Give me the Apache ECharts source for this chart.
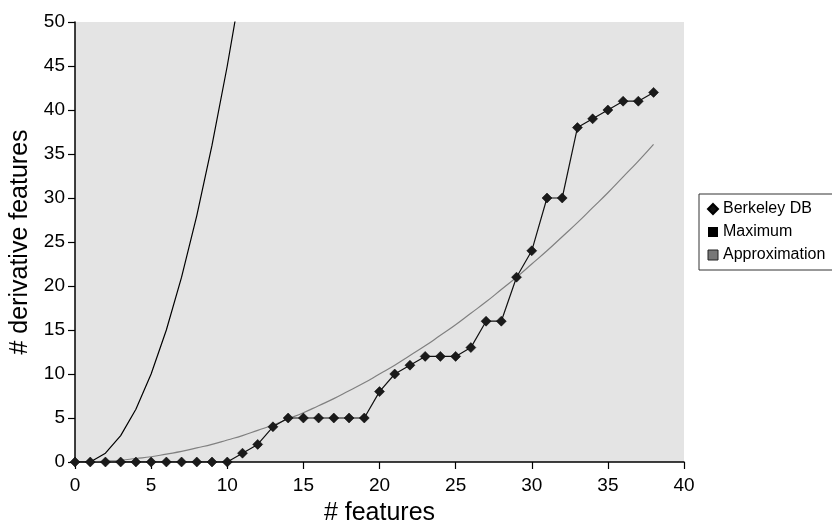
<!DOCTYPE html>
<html><head><meta charset="utf-8">
<script src="https://cdn.jsdelivr.net/npm/echarts@6/dist/echarts.min.js"></script>
<style>html,body{margin:0;padding:0;background:#fff}#c{width:832px;height:525px}</style>
</head><body><div id="c"></div>
<script>
const features = [0,1,2,3,4,5,6,7,8,9,10,11,12,13,14,15,16,17,18,19,20,21,22,23,24,25,26,27,28,29,30,31,32,33,34,35,36,37,38];
const berkeleyDB = [0,0,0,0,0,0,0,0,0,0,0,1,2,4,5,5,5,5,5,5,8,10,11,12,12,12,13,16,16,21,24,30,30,38,39,40,41,41,42];
const maximumX = [0,1,2,3,4,5,6,7,8,9,10,11];
const maximum = [0,0,1,3,6,10,15,21,28,36,45,55];
const approximation = [0,0.03,0.1,0.2,0.4,0.6,0.9,1.2,1.6,2.0,2.5,3.0,3.6,4.2,4.9,5.6,6.4,7.2,8.1,9.0,10,11,12.1,13.2,14.4,15.6,16.9,18.2,19.6,21,22.5,24,25.6,27.2,28.9,30.6,32.4,34.2,36.1];
const xTicks = [0,5,10,15,20,25,30,35,40];
const yTicks = [0,5,10,15,20,25,30,35,40,45,50];

const pair = (xs, ys) => xs.map((x,i)=>[x, ys[i]]);
const font = 'Liberation Sans, Arial, sans-serif';
const chart = echarts.init(document.getElementById('c'));
chart.setOption({
  animation:false,
  backgroundColor:'#fff',
  grid:{left:75, right:148, top:22, bottom:63, show:true, backgroundColor:'#e4e4e4', borderWidth:0,
    containLabel:false, outerBoundsMode:'none'},
  xAxis:{type:'value', min:xTicks[0], max:xTicks[xTicks.length-1], interval:5,
    name:'# features', nameLocation:'middle', nameGap:39,
    nameTextStyle:{fontFamily:font, fontSize:25, color:'#000'},
    axisLine:{lineStyle:{color:'#000', width:1.5}},
    axisTick:{show:true, length:7, lineStyle:{color:'#000', width:1.2}},
    axisLabel:{fontFamily:font, fontSize:19, color:'#000', margin:14},
    splitLine:{show:false}},
  yAxis:{type:'value', min:yTicks[0], max:yTicks[yTicks.length-1], interval:5,
    name:'# derivative features', nameLocation:'middle', nameGap:41, nameRotate:90,
    nameTextStyle:{fontFamily:font, fontSize:25, color:'#000'},
    axisLine:{show:true, lineStyle:{color:'#000', width:1.5}},
    axisTick:{show:true, length:7, lineStyle:{color:'#000', width:1.2}},
    axisLabel:{fontFamily:font, fontSize:19, color:'#000', margin:10},
    splitLine:{show:false}},
  legend:{orient:'vertical', left:699, top:194, padding:[7,8,7,8],
    borderColor:'#333', borderWidth:1, backgroundColor:'#fff',
    itemWidth:10, itemHeight:10, itemGap:7,
    textStyle:{fontFamily:font, fontSize:16, color:'#000'},
    data:[
      {name:'Berkeley DB', icon:'diamond', itemStyle:{color:'#111'}},
      {name:'Maximum', icon:'rect', itemStyle:{color:'#000'}},
      {name:'Approximation', icon:'rect', itemStyle:{color:'#777', borderColor:'#222', borderWidth:1}}
    ]},
  series:[
    {name:'Approximation', type:'line', data:pair(features, approximation), smooth:true, showSymbol:false,
      lineStyle:{color:'#808080', width:1.2}, itemStyle:{color:'#777'}, z:2},
    {name:'Maximum', type:'line', data:pair(maximumX, maximum), showSymbol:false, clip:true,
      lineStyle:{color:'#000', width:1.2}, itemStyle:{color:'#000'}, z:3},
    {name:'Berkeley DB', type:'line', data:pair(features, berkeleyDB), symbol:'diamond', symbolSize:10,
      lineStyle:{color:'#111', width:1.2}, itemStyle:{color:'#1a1a1a', borderColor:'#000', borderWidth:0.5}, z:4}
  ]
});
</script></body></html>
